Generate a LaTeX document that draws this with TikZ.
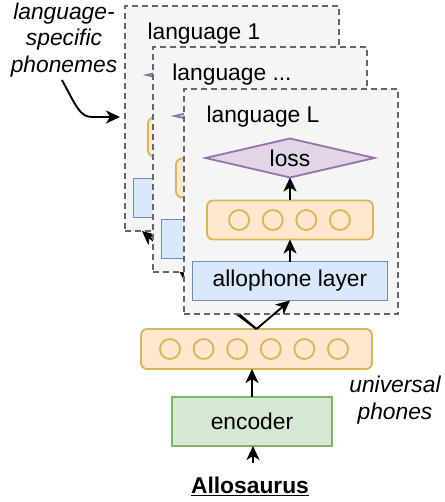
\documentclass[tikz,border=0pt]{standalone}
\usepackage{fontspec}
\setmainfont{Liberation Sans}
\usetikzlibrary{arrows.meta,shapes.geometric}
\definecolor{panelfill}{HTML}{F5F5F5}
\definecolor{panelline}{HTML}{666666}
\definecolor{orfill}{HTML}{FFE6CC}
\definecolor{orline}{HTML}{D6B656}
\definecolor{blfill}{HTML}{DAE8FC}
\definecolor{blline}{HTML}{6C8EBF}
\definecolor{pufill}{HTML}{E1D5E7}
\definecolor{puline}{HTML}{9673A6}
\definecolor{grfill}{HTML}{D5E8D4}
\definecolor{grline}{HTML}{82B366}
\tikzset{
  every node/.style={font=\fontsize{22.8}{26.5}\selectfont, inner sep=0pt, outer sep=0pt},
  panelbox/.style={draw=panelline, fill=panelfill, line width=1.8pt, dash pattern=on 6pt off 4pt,
    minimum width=214pt, minimum height=225pt, anchor=north west},
  orbar/.style={draw=orline, fill=orfill, line width=1.8pt, rounded corners=6pt},
  circ/.style={draw=orline, circle, line width=1.8pt, minimum size=20pt},
  blbox/.style={draw=blline, fill=blfill, line width=1.8pt, minimum width=195pt, minimum height=39pt},
  lossd/.style={draw=puline, fill=pufill, line width=1.8pt, diamond, aspect=4.33,
    minimum width=169pt, minimum height=39pt},
  encbox/.style={draw=grline, fill=grfill, line width=1.8pt, minimum width=160pt, minimum height=49pt},
  arr/.style={line width=1.9pt, -{Stealth[length=14pt,width=13pt,inset=4pt]}},
  lbl/.style={font=\fontsize{22.8}{26.5}\selectfont\itshape, align=center}
}
% #1 name, #2 x, #3 y, #4 title, #5 diamond text, #6 layer text (hidden in back panels)
\newcommand{\langpanel}[6]{%
  \begin{scope}[shift={(#2,#3)}]
    \node[panelbox] (#1) at (0,0) {};
    \node (#1t) at (79,28) {#4};
    \node[lossd] (#1d) at (106,69) {#5};
    \node[orbar, minimum width=166pt, minimum height=39pt] (#1o) at (106,131) {};
    \foreach \dx [count=\k] in {-50.4,-16.8,16.8,50.4}
      \node[circ] (#1c\k) at (105.5+\dx,131) {};
    \node[blbox] (#1a) at (106,192) {#6};
    \draw[arr] (#1o.north) -- (#1d.south);
    \draw[arr] (#1a.north) -- (#1o.south);
  \end{scope}}
\begin{document}
\begin{tikzpicture}[x=1pt,y=-1pt]
  \useasboundingbox (0,0) rectangle (444,502);
  % universal phones bar
  \node[orbar, minimum width=231pt, minimum height=40pt] (ub) at (256.5,349) {};
  \foreach \dx [count=\k] in {-84,-50.4,-16.8,16.8,50.4,84}
    \node[circ] (uc\k) at (254+\dx,349) {};
  \node[encbox] (enc) at (252,421.5) {encoder};
  \node[font=\fontsize{22.8}{26.5}\selectfont\bfseries] (allo) at (250,486) {\underline{Allosaurus}};
  % arrows behind the panels
  \coordinate (end1) at (142,231);
  \coordinate (end2) at (179,271);
  \draw[arr] (ub.north) -- (end1);
  \draw[arr] (ub.north) -- (end2);
  % panels
  \langpanel{pa}{125}{6}{language 1}{}{}
  \langpanel{pb}{153}{47}{language ...}{}{}
  \langpanel{pc}{184}{89}{language L}{loss}{allophone layer}
  \draw[arr] (ub.north) -- (pca.south);
  % encoder arrows
  \draw[arr] (enc.north) -- (enc.north |- ub.south);
  \coordinate (allotop) at (253,463);
  \draw[arr] (allotop) -- (allotop |- enc.south);
  % annotations
  \node[lbl] (lsp) at (64,40) {language-\\specific\\phonemes};
  \coordinate (cs) at (62,80);
  \coordinate (cm) at (92,117);
  \coordinate (ct) at (120,117);
  \draw[arr] (cs) .. controls (76,106) and (80,117) .. (cm) -- (ct);
  \node[lbl] (uph) at (395,400) {universal\\phones};
\end{tikzpicture}
\end{document}
